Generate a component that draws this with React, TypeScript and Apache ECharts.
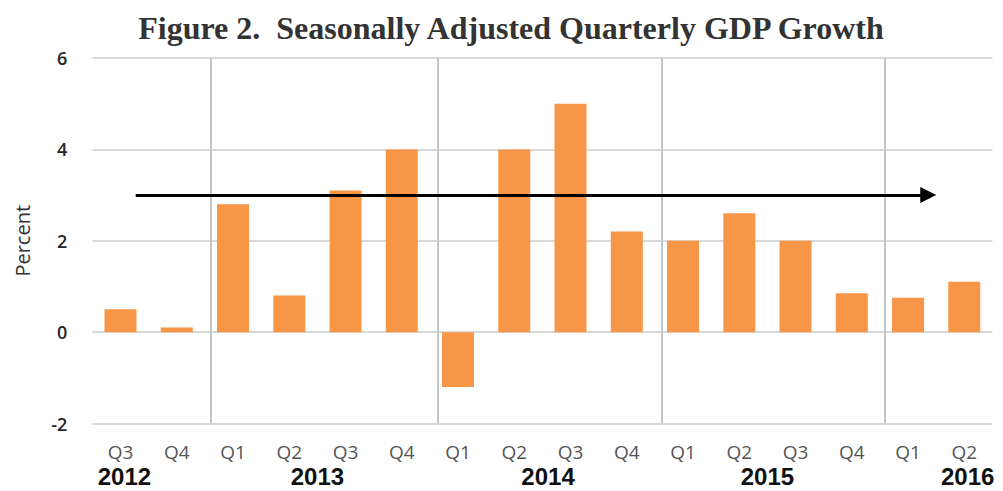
import React, { useEffect, useRef } from "react";
import * as echarts from "echarts";

const quarters = ["Q3", "Q4", "Q1", "Q2", "Q3", "Q4", "Q1", "Q2", "Q3", "Q4", "Q1", "Q2", "Q3", "Q4", "Q1", "Q2"];
const gdpGrowth = [0.5, 0.1, 2.8, 0.8, 3.1, 4.0, -1.2, 4.0, 5.0, 2.2, 2.0, 2.6, 2.0, 0.85, 0.75, 1.1];
const yearLabels = ["2012", "2013", "2014", "2015", "2016"];
const yearLabelAt = [0.07, 3.5, 7.6, 11.5, 15.06];
const yearDividerAt = [1.61, 5.64, 9.62, 13.59];
const arrowFrom = 0.27;
const arrowTo = 14.36;
const arrowLevel = 3;
const yTicks = { min: -2, max: 6, interval: 2 };

export default function App() {
  const ref = useRef<HTMLDivElement>(null);
  useEffect(() => {
    if (!ref.current) return;
    const chart = echarts.init(ref.current, undefined, { renderer: "svg" });
    const dividerData = yearDividerAt.map((x) => [
      { coord: [x, yTicks.min] },
      { coord: [x, yTicks.max] },
    ]);
    chart.setOption({
      animation: false,
      backgroundColor: "#ffffff",
      title: {
        text: "Figure 2.  Seasonally Adjusted Quarterly GDP Growth",
        left: 506,
        textAlign: "center",
        top: 7,
        textStyle: {
          fontFamily: "Liberation Serif",
          fontWeight: "bold",
          fontSize: 32,
          color: "#333333",
        },
      },
      grid: { left: 92.4, right: 10.6, top: 58, bottom: 67.5, containLabel: false },
      xAxis: [
        {
          type: "category",
          data: quarters,
          boundaryGap: true,
          axisLine: { show: false },
          axisTick: { show: false },
          splitLine: { show: false },
          axisLabel: {
            interval: 0,
            margin: 19,
            color: "#555555",
            fontFamily: "Open Sans",
            fontSize: 19,
            lineHeight: 19,
          },
        },
        {
          type: "value",
          min: -0.5,
          max: 15.5,
          position: "bottom",
          show: true,
          axisLine: { show: false },
          axisTick: { show: false },
          splitLine: { show: false },
          axisLabel: {
            customValues: yearLabelAt,
            showMinLabel: true,
            showMaxLabel: true,
            margin: 42,
            color: "#111111",
            fontFamily: "Liberation Sans",
            fontWeight: "bold",
            fontSize: 24,
            lineHeight: 22,
            formatter: (v: number) => {
              const i = yearLabelAt.findIndex((p) => Math.abs(p - v) < 1e-6);
              return i >= 0 ? yearLabels[i] : "";
            },
          },
        },
      ],
      yAxis: {
        type: "value",
        min: yTicks.min,
        max: yTicks.max,
        interval: yTicks.interval,
        name: "Percent",
        nameLocation: "middle",
        nameRotate: 90,
        nameGap: 60,
        nameTextStyle: { fontFamily: "Open Sans", fontSize: 20, color: "#333333" },
        axisLine: { show: false },
        axisTick: { show: false },
        axisLabel: {
          margin: 25,
          color: "#262626",
          fontFamily: "Open Sans",
          fontWeight: 600,
          fontSize: 18,
        },
        splitLine: { show: true, lineStyle: { color: "#d9d9d9", width: 2 } },
      },
      series: [
        {
          type: "bar",
          xAxisIndex: 0,
          data: gdpGrowth,
          barWidth: 32,
          itemStyle: { color: "#f79646" },
        },
        {
          type: "line",
          xAxisIndex: 1,
          data: [],
          silent: true,
          markLine: {
            silent: true,
            animation: false,
            symbol: ["none", "none"],
            label: { show: false },
            lineStyle: { color: "#c6c6c6", width: 2, type: "solid" },
            data: dividerData,
          },
        },
        {
          type: "line",
          xAxisIndex: 1,
          data: [],
          silent: true,
          markLine: {
            silent: true,
            animation: false,
            symbol: ["none", "triangle"],
            symbolSize: 16,
            label: { show: false },
            lineStyle: { color: "#000000", width: 3, type: "solid" },
            data: [[{ coord: [arrowFrom, arrowLevel] }, { coord: [arrowTo, arrowLevel] }]],
          },
        },
      ],
    });
    return () => chart.dispose();
  }, []);
  return <div ref={ref} style={{ width: 1003, height: 491, position: "absolute", left: 0, top: 0 }} />;
}
